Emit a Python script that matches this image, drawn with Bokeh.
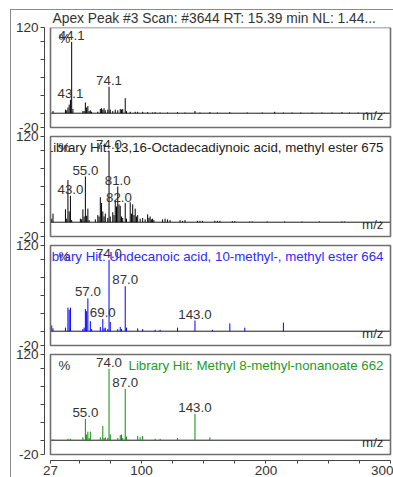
from bokeh.plotting import figure
from bokeh.models import Range1d, FixedTicker, ColumnDataSource, InlineStyleSheet
from bokeh.core.properties import value
from bokeh.embed import file_html
from bokeh.resources import INLINE

# ---------------- data ----------------
XMIN, XMAX = 27, 300
YMIN, YMAX = -20, 120

title_text = "Apex Peak #3 Scan: #3644  RT: 15.39 min NL: 1.44..."
hit_texts = ["",
             "Library Hit: 13,16-Octadecadiynoic acid, methyl ester 675",
             "Library Hit: Undecanoic acid, 10-methyl-, methyl ester 664",
             "Library Hit: Methyl 8-methyl-nonanoate 662"]

mz1 = [27, 29, 39, 40, 41, 42, 43, 44, 45, 53, 54, 55, 56, 57, 58, 59, 60, 65, 67, 68, 69, 70, 71, 73, 74, 75,
       77, 79, 81, 83, 84, 85, 87, 88, 91, 95, 97, 101, 105, 109, 111, 115, 121, 129, 135, 143, 147, 155, 161,
       171, 185, 197, 207, 214, 221, 228, 237, 245, 253, 261, 267, 274, 281, 288, 295]
int1 = [2, 3, 5, 4, 8, 12, 19, 100, 6, 3, 3, 15, 8, 10, 3, 4, 2, 2, 6, 7, 5, 7, 4, 5, 37, 5,
        3, 5, 4, 6, 5, 6, 21, 3, 2, 2, 2, 2, 1.5, 1, 1.5, 1, 1, 1.5, 1, 3, 1, 1.5, 1,
        1.5, 1, 1, 2, 1, 1, 1, 1, 1, 1, 1.5, 1, 1, 1.5, 1, 1]
lab1_mz = [43, 44, 74]
lab1_txt = ["43.1", "44.1", "74.1"]

mz2 = [27, 28, 29, 39, 40, 41, 42, 43, 44, 51, 52, 53, 54, 55, 56, 57, 58, 63, 65, 66, 67, 68, 69, 70, 71,
       73, 74, 75, 77, 78, 79, 80, 81, 82, 83, 84, 85, 87, 88, 91, 92, 93, 94, 95, 96, 97, 99, 101, 103, 105,
       106, 107, 108, 109, 110, 117, 119, 121, 123, 131, 133, 135, 145, 147, 149, 159, 161, 163, 173, 175,
       187, 189, 201, 215, 229, 243, 261, 263, 292]
int2 = [20, 5, 12, 18, 5, 59, 15, 37, 3, 5, 4, 18, 8, 64, 9, 19, 3, 4, 10, 8, 35, 27, 15, 8, 12,
        6, 100, 8, 14, 10, 31, 22, 50, 25, 23, 8, 6, 27, 5, 28, 12, 25, 10, 19, 8, 10, 5, 6, 4, 11,
        6, 8, 4, 5, 3, 4, 5, 4, 3, 3, 2, 3, 2, 2, 2, 2, 2, 2, 1.5, 1.5,
        1, 1, 1, 1, 1, 1, 1, 1, 1]
lab2_mz = [43, 55, 74, 81, 82]
lab2_txt = ["43.0", "55.0", "74.0", "81.0", "82.0"]

mz3 = [27, 28, 29, 39, 41, 42, 43, 53, 54, 55, 56, 57, 59, 60, 67, 69, 70, 71, 73, 74, 75, 81, 83, 84, 87,
       88, 97, 101, 111, 115, 129, 143, 157, 171, 183, 214]
int3 = [3, 8, 4, 5, 33, 30, 33, 3, 5, 31, 28, 46, 14, 3, 6, 17, 4, 5, 3, 100, 13, 3, 6, 3, 63,
        5, 4, 3, 2, 2, 5, 15, 2, 11, 5, 12]
lab3_mz = [57, 69, 74, 87, 143]
lab3_txt = ["57.0", "69.0", "74.0", "87.0", "143.0"]

mz4 = [27, 29, 41, 43, 53, 55, 56, 57, 58, 59, 67, 69, 70, 71, 73, 74, 75, 81, 83, 84, 85, 87, 88, 97, 99,
       101, 111, 115, 129, 143, 155]
int4 = [1, 1, 2, 2, 4, 30, 8, 12, 3, 12, 4, 20, 3, 4, 3, 100, 8, 3, 7, 8, 3, 72, 5, 6, 4,
        6, 2, 2, 3, 37, 4]
lab4_mz = [55, 74, 87, 143]
lab4_txt = ["55.0", "74.0", "87.0", "143.0"]

x_major = [27, 100, 200, 300]
x_minor = [50, 75, 125, 150, 175, 225, 250, 275]
y_major = [120, -20]
y_minor = [100, 75, 50, 25, 0]

panels = [(mz1, int1, lab1_mz, lab1_txt), (mz2, int2, lab2_mz, lab2_txt),
          (mz3, int3, lab3_mz, lab3_txt), (mz4, int4, lab4_mz, lab4_txt)]
stem_colors = ["#000000", "#000000", "#0000ff", "#0a8f0a"]
hit_colors = ["#222222", "#222222", "#2b2bff", "#1f9a1f"]

# ---------------- layout ----------------
W, H = 393, 477
B_LEFT, B_RIGHT, B_TOP, B_BOTTOM = 44, 1, 27, 17
X_OFF_PX = 6                       # panel box sits 6 px inside the axes
X_PPU = 340.0 / (XMAX - XMIN)      # px per m/z unit
Y_UPP = (YMAX - YMIN) / 100.0      # units per px (panel 100 px high)
PERIOD = 109 * Y_UPP               # panel-to-panel step in units

frame_w = W - B_LEFT - B_RIGHT
frame_h = H - B_TOP - B_BOTTOM
x_start = XMIN - X_OFF_PX / X_PPU
x_end = x_start + frame_w / X_PPU
y_end0 = YMAX
y_start0 = YMAX - frame_h * Y_UPP

FONT = value("Liberation Sans")
TXT = "#333333"
FS = "13.3px"

# outer frame lines (top and left) drawn as page decoration behind the transparent border
outer_css = InlineStyleSheet(css="""
:host {
  background-color: white;
  background-image: linear-gradient(#8a8a8a, #8a8a8a), linear-gradient(#8a8a8a, #8a8a8a);
  background-size: 384px 1px, 1px 470px;
  background-position: 10px 9px, 10px 9px;
  background-repeat: no-repeat;
}
""")

p = figure(width=W, height=H, output_backend="svg", toolbar_location=None,
           x_range=Range1d(x_start, x_end), y_range=Range1d(y_start0, y_end0),
           min_border_left=B_LEFT, min_border_right=B_RIGHT,
           min_border_top=B_TOP, min_border_bottom=B_BOTTOM,
           stylesheets=[outer_css])
p.outline_line_color = None
p.xgrid.visible = False
p.ygrid.visible = False
p.background_fill_color = "white"
p.border_fill_alpha = 0

p.title.text = title_text
p.title.align = "left"
p.title.offset = 8
p.title.standoff = 3
p.title.text_font = "Liberation Sans"
p.title.text_font_size = "13.8px"
p.title.text_font_style = "normal"
p.title.text_color = TXT

names = ["default", "p1", "p2", "p3"]
for k in range(1, 4):
    p.extra_y_ranges[names[k]] = Range1d(y_start0 + k * PERIOD, y_end0 + k * PERIOD)

for k, (mz, inten, lmz, ltxt) in enumerate(panels):
    rn = names[k]
    # baseline
    p.line(x=[XMIN, XMAX], y=[0, 0], line_color="#1a1a1a", line_width=1, y_range_name=rn)
    # stems
    src = ColumnDataSource(dict(x=mz, y=inten, z=[0] * len(mz)))
    p.segment(x0="x", y0="z", x1="x", y1="y", source=src, line_color=stem_colors[k],
              line_width=1, y_range_name=rn)
    # peak labels
    lookup = dict(zip(mz, inten))
    lsrc = ColumnDataSource(dict(x=lmz, y=[lookup[m] for m in lmz], t=ltxt))
    p.text(x="x", y="y", text="t", source=lsrc, y_range_name=rn, text_align="center",
           text_baseline="bottom", y_offset=-2, text_font=FONT, text_font_size=FS,
           text_color=TXT)
    # % mark
    p.text(x=[XMIN], y=[YMAX], text=["%"], x_offset=8, y_offset=3, text_align="left",
           text_baseline="top", text_font=FONT, text_font_size=FS, text_color=TXT,
           y_range_name=rn)
    # library hit
    if hit_texts[k]:
        p.text(x=[XMAX], y=[YMAX], text=[hit_texts[k]], x_offset=-7, y_offset=3,
               text_align="right", text_baseline="top", text_font=FONT,
               text_font_size=FS, text_color=hit_colors[k], y_range_name=rn)
    # m/z
    p.text(x=[XMAX], y=[0], text=["m/z"], x_offset=-7, y_offset=2, text_align="right",
           text_baseline="middle", text_font=FONT, text_font_size=FS, text_color=TXT,
           y_range_name=rn)
    # white mask left of panel box (clips overflowing text)
    p.quad(left=[x_start], right=[XMIN], bottom=[YMIN], top=[YMAX], fill_color="white",
           line_color=None, y_range_name=rn)
    # panel box
    p.quad(left=[XMIN], right=[XMAX], bottom=[YMIN], top=[YMAX], fill_color=None,
           line_color="#707070", line_width=1.6, y_range_name=rn)

# y axis
yt_major, yt_minor, overrides = [], [], {}
for k in range(4):
    for v in y_major:
        t = round(v - k * PERIOD, 3)
        yt_major.append(t)
        overrides[t] = str(v)
    for v in y_minor:
        yt_minor.append(round(v - k * PERIOD, 3))
yax = p.yaxis[0]
yax.ticker = FixedTicker(ticks=yt_major, minor_ticks=yt_minor)
yax.major_label_overrides = overrides
yax.bounds = (round(YMIN - 3 * PERIOD, 3), YMAX)

xax = p.xaxis[0]
xax.ticker = FixedTicker(ticks=x_major, minor_ticks=x_minor)
xax.bounds = (XMIN, XMAX)

for ax, tl in ((yax, 4), (xax, 3)):
    ax.axis_line_color = "#444444"
    ax.major_tick_line_color = "#444444"
    ax.minor_tick_line_color = "#444444"
    ax.major_tick_in = 0
    ax.minor_tick_in = 0
    ax.major_tick_out = tl
    ax.minor_tick_out = tl
    ax.major_label_text_font = "Liberation Sans"
    ax.major_label_text_font_size = "13.5px"
    ax.major_label_text_color = TXT
    ax.major_label_standoff = 2

open("out.html", "w").write(file_html(p, INLINE))
